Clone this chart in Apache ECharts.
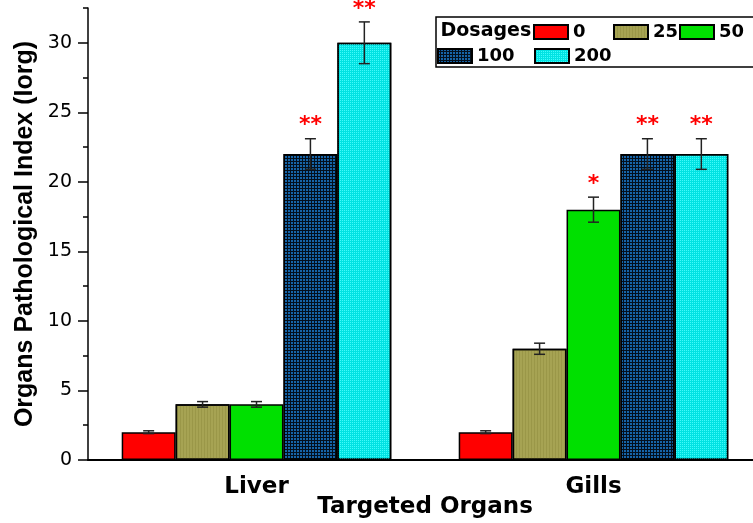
<!DOCTYPE html>
<html><head><meta charset="utf-8">
<script src="https://cdn.jsdelivr.net/npm/echarts@6/dist/echarts.min.js"></script>
<style>html,body{margin:0;padding:0;background:#fff}#c{width:753px;height:523px}</style>
</head><body><div id="c"></div>
<script>
const categories = ['Liver', 'Gills'];
const doseNames = ['0', '25', '50', '100', '200'];
const dose0 = [2, 2];
const dose25 = [4, 8];
const dose50 = [4, 18];
const dose100 = [22, 22];
const dose200 = [30, 22];
const err0 = [0.1, 0.1];
const err25 = [0.2, 0.4];
const err50 = [0.2, 0.9];
const err100 = [1.1, 1.1];
const err200 = [1.5, 1.1];
const stars0 = ['', ''];
const stars25 = ['', ''];
const stars50 = ['', '*'];
const stars100 = ['**', '**'];
const stars200 = ['**', '**'];
const yMajorTicks = [0, 5, 10, 15, 20, 25, 30];
const yMinorTicks = [2.5, 7.5, 12.5, 17.5, 22.5, 27.5, 32.5];
const yMin = 0, yMax = 32.5;

const values = [dose0, dose25, dose50, dose100, dose200];
const errors = [err0, err25, err50, err100, err200];
const stars = [stars0, stars25, stars50, stars100, stars200];

const gapRatio = 0.2;
const styles = [
  { color: '#ff0000' },
  { color: '#a6a353', decal: { color: 'rgba(120,115,40,0.25)', symbol: 'rect', symbolSize: 1, dashArrayX: [1, 2], dashArrayY: [4, 0] } },
  { color: '#00e000' },
  { color: '#03101e', decal: { color: '#1664a8', symbol: 'rect', symbolSize: 1, dashArrayX: [2, 1], dashArrayY: [2, 1] } },
  { color: '#00e2e2', decal: { color: '#40fafa', symbol: 'rect', symbolSize: 1, dashArrayX: [1, 1], dashArrayY: [1, 1] } }
];

const FONT_H = 'DejaVu Sans';
const barSeries = doseNames.map((n, k) => ({
  name: n, type: 'bar', data: values[k],
  barGap: '0%', barCategoryGap: (gapRatio * 100) + '%',
  itemStyle: Object.assign({ borderColor: '#000', borderWidth: 1.5 }, styles[k]),
  z: 2
}));

const errSeries = doseNames.map((n, k) => ({
  type: 'custom', silent: true, z: 10,
  data: values[k].map((v, i) => [i, v, errors[k][i]]),
  encode: { x: 0, y: 1 },
  renderItem: function (params, api) {
    const c = api.value(0), v = api.value(1), e = api.value(2);
    const st = stars[k][params.dataIndex];
    const band = api.size([1, 0])[0];
    const bw = band * (1 - gapRatio) / doseNames.length;
    const cx = api.coord([c, v])[0] + (k - (doseNames.length - 1) / 2) * bw;
    const top = api.coord([c, v + e])[1];
    const bot = api.coord([c, v - e])[1];
    const cap = 5.5;
    const ls = { stroke: '#222', lineWidth: 1.5 };
    const children = [
      { type: 'line', shape: { x1: cx, y1: top, x2: cx, y2: bot }, style: ls },
      { type: 'line', shape: { x1: cx - cap, y1: top, x2: cx + cap, y2: top }, style: ls },
      { type: 'line', shape: { x1: cx - cap, y1: bot, x2: cx + cap, y2: bot }, style: ls }
    ];
    if (st) {
      children.push({ type: 'text', x: cx, y: top - 13,
        style: { text: st, fill: '#ff0000', font: 'bold 22px "DejaVu Sans"', align: 'center', verticalAlign: 'middle' } });
    }
    return { type: 'group', children: children };
  }
}));

const legendPos = [[533, 23], [613, 23], [679, 23], [437, 47], [534, 47]];
const legends = doseNames.map((n, k) => ({
  data: [n], left: legendPos[k][0], top: legendPos[k][1], padding: 0,
  itemWidth: 34, itemHeight: 14, itemGap: 0, itemTextGap: 7, icon: 'rect',
  selectedMode: false,
  textStyle: { fontFamily: FONT_H, fontWeight: 'bold', fontSize: 18, color: '#000' }
}));

const chart = echarts.init(document.getElementById('c'));
chart.setOption({
  animation: false,
  backgroundColor: '#fff',
  grid: { left: 88, width: 674, top: 8, bottom: 63, containLabel: false, outerBoundsMode: 'none' },
  legend: legends,
  graphic: [
    { type: 'rect', shape: { x: 436, y: 17, width: 340, height: 50 }, style: { fill: 'none', stroke: '#000', lineWidth: 1.5 }, z: 50 },
    { type: 'text', x: 440.5, y: 31, style: { text: 'Dosages', font: 'bold 19px "DejaVu Sans"', fill: '#000', verticalAlign: 'middle' }, z: 50 }
  ],
  xAxis: {
    type: 'category', data: categories,
    axisLine: { lineStyle: { color: '#000', width: 2 } },
    axisTick: { alignWithLabel: true, length: 7, lineStyle: { color: '#000', width: 2 } },
    axisLabel: { fontFamily: FONT_H, fontWeight: 'bold', fontSize: 23, color: '#000', margin: 16 },
    name: 'Targeted Organs', nameLocation: 'middle', nameGap: 36, nameMoveOverlap: false,
    nameTextStyle: { fontFamily: FONT_H, fontWeight: 'bold', fontSize: 23, color: '#000' }
  },
  yAxis: [
    {
      type: 'value', min: yMin, max: yMax, position: 'left',
      axisLine: { show: true, lineStyle: { color: '#000', width: 1.5 } },
      axisTick: { show: true, customValues: yMajorTicks, length: 10, lineStyle: { color: '#000', width: 1.5 } },
      axisLabel: { customValues: yMajorTicks, fontFamily: FONT_H, fontSize: 19, color: '#000', margin: 16 },
      splitLine: { show: false },
      name: 'Organs Pathological Index (Iorg)', nameLocation: 'middle', nameGap: 50, nameMoveOverlap: false,
      nameTextStyle: { fontFamily: 'Liberation Sans', fontWeight: 'bold', fontSize: 25, color: '#000' }
    },
    {
      type: 'value', min: yMin, max: yMax, position: 'left', offset: 0,
      axisLine: { show: false },
      axisTick: { show: true, customValues: yMinorTicks, length: 5, lineStyle: { color: '#000', width: 1.5 } },
      axisLabel: { show: false },
      splitLine: { show: false }
    }
  ],
  series: barSeries.concat(errSeries)
});
</script>
</body></html>
